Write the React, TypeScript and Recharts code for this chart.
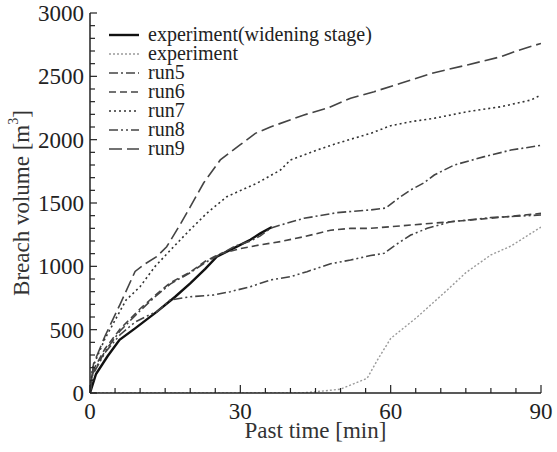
import React from 'react';
import { LineChart, Line, XAxis, YAxis } from 'recharts';

// [time (min), breach volume (m3)]
const widening: [number, number][] = [
  [0, 0], [1.2, 150], [3.5, 290], [5.9, 420], [9, 510], [13.3, 640], [17, 760], [20, 866],
  [23, 980], [25.3, 1076], [27, 1110], [29.3, 1155], [32, 1210], [34, 1260], [36.3, 1310],
];
const experiment: [number, number][] = [
  [0, 0], [20, 0], [42, 0], [45, 10], [50, 30], [55.3, 116], [57.5, 270], [60, 430],
  [65.3, 600], [71.3, 813], [75, 950], [80, 1090], [84, 1160], [90, 1310],
];
const run5: [number, number][] = [
  [0, 0], [0.5, 150], [3, 330], [6, 490], [10, 650], [13, 760], [16, 860], [20, 950],
  [23, 1030], [26, 1095], [29, 1160], [32, 1200], [34, 1240], [36, 1300], [38, 1326],
  [42.7, 1379], [49.3, 1424], [56, 1445], [59, 1460], [62, 1550], [64, 1603], [66.7, 1660],
  [68.7, 1721], [72.7, 1800], [78.7, 1866], [84, 1918], [90, 1955],
];
const run6: [number, number][] = [
  [0, 0], [0.5, 170], [3, 350], [6, 505], [10, 665], [13, 770], [16, 870], [20, 955],
  [23, 1040], [26, 1100], [30, 1140], [34, 1170], [38, 1195], [42.7, 1234], [48, 1285],
  [52, 1300], [56, 1300], [64, 1326], [72, 1352], [82, 1387], [90, 1418],
];
const run7: [number, number][] = [
  [0, 0], [0.5, 200], [3, 430], [7.2, 734], [10, 840], [13, 1000], [16.7, 1155], [20, 1290],
  [23.3, 1419], [27.3, 1550], [33.3, 1656], [38, 1760], [40, 1840], [45.3, 1918], [49.3, 1971],
  [56, 2050], [60, 2110], [64, 2142], [68.7, 2169], [75.3, 2221], [82, 2260], [88, 2313], [90, 2353],
];
const run8: [number, number][] = [
  [0, 0], [0.5, 140], [3, 320], [6, 460], [9, 560], [12, 620], [13.3, 640], [16, 734],
  [20, 760], [24.7, 774], [28, 800], [32, 839], [36, 892], [40, 918], [43.3, 958], [48, 1020],
  [52, 1050], [56, 1085], [58.7, 1103], [61, 1170], [64, 1247], [67.3, 1300], [72, 1352],
  [80, 1385], [90, 1405],
];
const run9: [number, number][] = [
  [0, 0], [0.7, 230], [3, 450], [6, 700], [9, 960], [11, 1020], [13.3, 1076], [15.3, 1155],
  [18, 1330], [20, 1470], [22.7, 1660], [26, 1840], [30, 1960], [33, 2050], [36, 2100],
  [42.7, 2195], [47.3, 2248], [52, 2327], [56.7, 2379], [62, 2445], [68.7, 2529], [75.3, 2590],
  [82, 2655], [85.3, 2703], [90, 2760],
];

const timeLabels = [0, 30, 60, 90];
const volumeLabels = [0, 500, 1000, 1500, 2000, 2500, 3000];
const timeTicks = Array.from({ length: 19 }, (_, i) => i * 5);
const volumeTicks = Array.from({ length: 31 }, (_, i) => i * 100);

const FONT = '"Liberation Serif", "Times New Roman", serif';
const INK = '#222';

const toPoints = (d: [number, number][]) => d.map(([t, v]) => ({ t, v }));

const series = [
  { name: 'experiment(widening stage)', data: widening, color: '#111', width: 2.4, dash: undefined },
  { name: 'experiment', data: experiment, color: '#9a9a9a', width: 1.4, dash: '2 2' },
  { name: 'run5', data: run5, color: '#444', width: 1.6, dash: '9 3 2 3' },
  { name: 'run6', data: run6, color: '#444', width: 1.6, dash: '7 4' },
  { name: 'run7', data: run7, color: '#333', width: 1.6, dash: '2 3' },
  { name: 'run8', data: run8, color: '#444', width: 1.6, dash: '9 3 2 3 2 3' },
  { name: 'run9', data: run9, color: '#444', width: 1.6, dash: '13 5' },
];

const BottomTick = (props: any) => {
  const { x, y, payload } = props;
  const major = timeLabels.includes(payload.value);
  return (
    <g>
      <line x1={x} x2={x} y1={y} y2={y - (major ? 8 : 5)} stroke={INK} strokeWidth={1.2} />
      {major && (
        <text x={x} y={y + 26} textAnchor="middle" fontSize={23} fontFamily={FONT} fill={INK}>
          {payload.value}
        </text>
      )}
    </g>
  );
};

const TopTick = (props: any) => {
  const { x, y, payload } = props;
  if (!timeLabels.includes(payload.value)) return <g />;
  return <line x1={x} x2={x} y1={y} y2={y + 8} stroke={INK} strokeWidth={1.2} />;
};

const LeftTick = (props: any) => {
  const { x, y, payload } = props;
  const major = volumeLabels.includes(payload.value);
  return (
    <g>
      <line x1={x} x2={x + (major ? 7 : 5)} y1={y} y2={y} stroke={INK} strokeWidth={1.2} />
      {major && (
        <text x={x - 6} y={y + 8} textAnchor="end" fontSize={23} fontFamily={FONT} fill={INK}>
          {payload.value}
        </text>
      )}
    </g>
  );
};

const RightTick = (props: any) => {
  const { x, y, payload } = props;
  const major = volumeLabels.includes(payload.value);
  return <line x1={x} x2={x - (major ? 7 : 5)} y1={y} y2={y} stroke={INK} strokeWidth={1.2} />;
};

const YTitle = (props: any) => {
  const { viewBox } = props;
  const cx = viewBox.x + 21;
  const cy = viewBox.y + viewBox.height / 2;
  return (
    <text
      x={cx}
      y={cy}
      transform={`rotate(-90 ${cx} ${cy})`}
      textAnchor="middle"
      dominantBaseline="central"
      fontSize={23}
      fontFamily={FONT}
      fill="#333"
    >
      Breach volume [m<tspan dy={-8} fontSize={14}>3</tspan><tspan dy={8}>]</tspan>
    </text>
  );
};

const XTitle = (props: any) => {
  const { viewBox } = props;
  return (
    <text
      x={viewBox.x + viewBox.width / 2}
      y={viewBox.y + 45}
      textAnchor="middle"
      fontSize={23}
      fontFamily={FONT}
      fill="#333"
    >
      Past time [min]
    </text>
  );
};

const LegendSample = ({ color, width, dash }: any) => (
  <svg width={30} height={10} style={{ display: 'block' }}>
    <line x1={0} x2={30} y1={5} y2={5} stroke={color} strokeWidth={width} strokeDasharray={dash} />
  </svg>
);

export default function App() {
  return (
    <div style={{ position: 'absolute', left: 0, top: 0, width: 557, height: 452, background: '#fff' }}>
      <LineChart width={557} height={452} margin={{ top: 13, right: 16, left: 0, bottom: 0 }}>
        <XAxis
          dataKey="t"
          type="number"
          domain={[0, 90]}
          ticks={timeTicks}
          interval={0}
          tickSize={0}
          tickMargin={0}
          height={59}
          allowDataOverflow
          stroke={INK}
          axisLine={{ stroke: INK, strokeWidth: 1.5 }}
          tick={<BottomTick />}
          label={<XTitle />}
        />
        <XAxis
          xAxisId="top"
          orientation="top"
          type="number"
          domain={[0, 90]}
          ticks={timeTicks}
          interval={0}
          tickSize={0}
          tickMargin={0}
          height={0}
          allowDataOverflow
          axisLine={{ stroke: INK, strokeWidth: 1.5 }}
          tick={<TopTick />}
        />
        <YAxis
          type="number"
          domain={[0, 3000]}
          ticks={volumeTicks}
          interval={0}
          tickSize={0}
          tickMargin={0}
          width={90}
          allowDataOverflow
          axisLine={{ stroke: INK, strokeWidth: 1.5 }}
          tick={<LeftTick />}
          label={<YTitle />}
        />
        <YAxis
          yAxisId="right"
          orientation="right"
          type="number"
          domain={[0, 3000]}
          ticks={volumeTicks}
          interval={0}
          tickSize={0}
          tickMargin={0}
          width={0}
          allowDataOverflow
          axisLine={{ stroke: INK, strokeWidth: 1.5 }}
          tick={<RightTick />}
        />
        {series.map((s) => (
          <Line
            key={s.name}
            data={toPoints(s.data)}
            dataKey="v"
            name={s.name}
            type="linear"
            stroke={s.color}
            strokeWidth={s.width}
            strokeDasharray={s.dash}
            dot={false}
            activeDot={false}
            isAnimationActive={false}
          />
        ))}
      </LineChart>
      <div
        style={{
          position: 'absolute',
          left: 109,
          top: 25,
          fontFamily: FONT,
          fontSize: 20,
          color: INK,
          lineHeight: '19px',
        }}
      >
        {series.map((s) => (
          <div key={s.name} style={{ display: 'flex', alignItems: 'center', height: 19 }}>
            <LegendSample color={s.color} width={s.width} dash={s.dash} />
            <span style={{ marginLeft: 9 }}>{s.name}</span>
          </div>
        ))}
      </div>
    </div>
  );
}
